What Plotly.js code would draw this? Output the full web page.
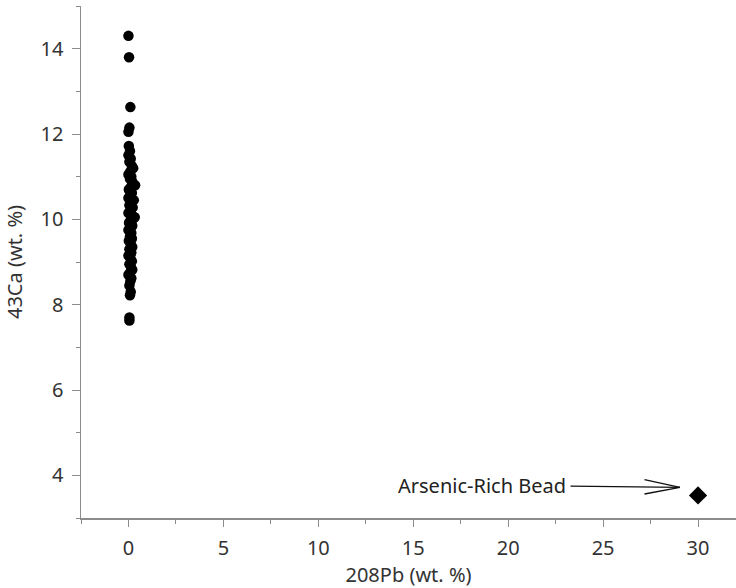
<!DOCTYPE html>
<html>
<head>
<meta charset="utf-8">
<script src="https://cdn.plot.ly/plotly-3.0.1.min.js"></script>
<style>html,body{margin:0;padding:0;background:#fff;}#chart{width:736px;height:588px;}</style>
</head>
<body>
<div id="chart"></div>
<script>
// Ordinary points: 208Pb (wt. %) vs 43Ca (wt. %)
var pbValues = [0.0, 0.03, 0.1, 0.05, 0.0, 0.02, 0.08, 0.0, 0.12, 0.05, 0.18, 0.25, 0.1, 0.0, 0.15, 0.08, 0.2, 0.35, 0.12, 0.02, 0.18, 0.08, 0.0, 0.28, 0.15, 0.05, 0.22, 0.1, 0.0, 0.18, 0.33, 0.25, 0.12, 0.03, 0.2, 0.1, 0.0, 0.15, 0.08, 0.18, 0.02, 0.12, 0.2, 0.05, 0.15, 0.0, 0.1, 0.18, 0.05, 0.12, 0.2, 0.08, 0.0, 0.15, 0.1, 0.05, 0.12, 0.08, 0.05, 0.05];
var caValues = [14.3, 13.8, 12.63, 12.15, 12.05, 11.72, 11.6, 11.5, 11.42, 11.35, 11.25, 11.2, 11.12, 11.05, 11.0, 10.95, 10.88, 10.8, 10.75, 10.7, 10.62, 10.55, 10.5, 10.45, 10.4, 10.33, 10.28, 10.2, 10.15, 10.1, 10.05, 10.02, 9.98, 9.92, 9.85, 9.8, 9.75, 9.68, 9.6, 9.55, 9.5, 9.42, 9.35, 9.3, 9.22, 9.15, 9.1, 9.02, 8.95, 8.9, 8.82, 8.75, 8.7, 8.62, 8.55, 8.45, 8.3, 8.22, 7.7, 7.63];
// Arsenic-rich bead
var beadPb = [30];
var beadCa = [3.53];
var beadLabel = "Arsenic-Rich Bead";
var arrowTip = [29.05, 3.72];
var xTitle = "208Pb (wt. %)";
var yTitle = "43Ca (wt. %)";

var axisColor = "#8c8c8c";
var fam = "Noto Sans, Open Sans, sans-serif";
var font = {family: fam, size: 20, color: "#333"};

var traces = [
  {x: pbValues, y: caValues, type: "scatter", mode: "markers",
   marker: {color: "#000", size: 10.5, symbol: "circle"}, hoverinfo: "x+y"},
  {x: beadPb, y: beadCa, type: "scatter", mode: "markers",
   marker: {color: "#000", size: 14, symbol: "diamond"}, hoverinfo: "x+y"}
];

var armStyle = {xref: "x", yref: "y", text: "", showarrow: true, arrowhead: 0,
  arrowwidth: 1.3, arrowcolor: "#111", axref: "pixel", ayref: "pixel", standoff: 0, startstandoff: 0};

var layout = {
  width: 736, height: 588,
  margin: {l: 81, r: 0, t: 6, b: 70},
  paper_bgcolor: "#fff", plot_bgcolor: "#fff",
  showlegend: false,
  font: font,
  xaxis: {
    range: [-2.5, 32], tickmode: "linear", tick0: 0, dtick: 5,
    showgrid: false, zeroline: false, showline: true, linecolor: axisColor, linewidth: 1.5,
    ticks: "outside", ticklen: 7, tickcolor: axisColor, tickwidth: 1,
    minor: {dtick: 2.5, tick0: 0, ticks: "outside", ticklen: 4, tickcolor: axisColor, showgrid: false},
    tickfont: font, ticklabelstandoff: 4,
    title: {text: xTitle, font: font, standoff: 2}
  },
  yaxis: {
    range: [3, 15], tickmode: "linear", tick0: 0, dtick: 2,
    showgrid: false, zeroline: false, showline: true, linecolor: axisColor, linewidth: 1.5,
    ticks: "outside", ticklen: 8, tickcolor: axisColor, tickwidth: 1,
    minor: {dtick: 1, tick0: 0, ticks: "outside", ticklen: 4, tickcolor: axisColor, showgrid: false},
    tickfont: font, ticklabelstandoff: 4,
    title: {text: yTitle, font: font, standoff: 12}
  },
  annotations: [
    {x: arrowTip[0], y: arrowTip[1], xref: "x", yref: "y",
     text: beadLabel, showarrow: true,
     ax: -198, ay: -2, axref: "pixel", ayref: "pixel",
     arrowhead: 0, arrowwidth: 1.3, arrowcolor: "#111", standoff: 0, borderpad: 4,
     font: {family: fam, size: 20, color: "#222"}},
    Object.assign({x: arrowTip[0], y: arrowTip[1], ax: -37, ay: -8}, armStyle),
    Object.assign({x: arrowTip[0], y: arrowTip[1], ax: -37, ay: 7}, armStyle)
  ]
};

Plotly.newPlot("chart", traces, layout, {displayModeBar: false, staticPlot: true});
</script>
</body>
</html>
